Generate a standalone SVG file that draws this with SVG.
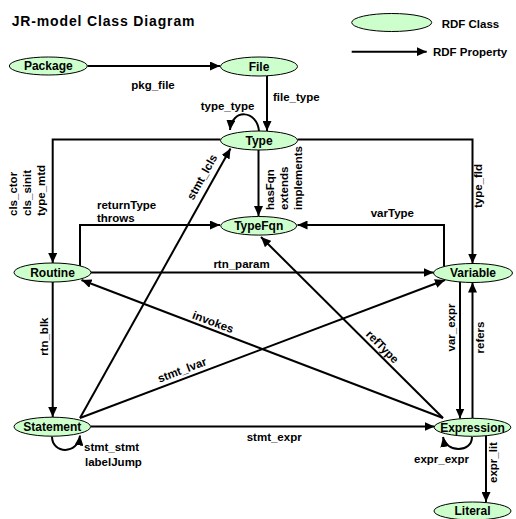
<svg xmlns="http://www.w3.org/2000/svg" width="516" height="519" viewBox="0 0 516 519">
  <defs>
    <marker id="arrow" markerUnits="userSpaceOnUse" markerWidth="11" markerHeight="9" refX="10" refY="4.5" orient="auto">
      <path d="M0,0 L10,4.5 L0,9 z" fill="#000"/>
    </marker>
  </defs>
  <style>
    .cls { fill: #ccffcc; stroke: #000; stroke-width: 1; }
    .edge { fill: none; stroke: #000; stroke-width: 2; marker-end: url(#arrow); }
    .node-label { font-family: "Liberation Sans", Arial, sans-serif; font-size: 12px; font-weight: bold; text-anchor: middle; fill: #000; }
    .lbl { font-family: "Liberation Sans", Arial, sans-serif; font-size: 11.5px; font-weight: bold; fill: #000; }
    .mid { text-anchor: middle; }
    .title { font-family: "Liberation Sans", Arial, sans-serif; font-size: 14px; font-weight: bold; letter-spacing: 0.85px; fill: #000; }
  </style>

  <rect width="516" height="519" fill="#fff"/>

  <text class="title" x="11.7" y="26">JR-model Class Diagram</text>

  <!-- legend -->
  <g id="legend">
    <ellipse class="cls" cx="391.7" cy="22.5" rx="40" ry="9"/>
    <text class="lbl" x="441.7" y="28" font-size="12">RDF Class</text>
    <path class="edge" d="M351.7,51.7 L426.7,51.7"/>
    <text class="lbl" x="433" y="56" font-size="12">RDF Property</text>
  </g>

  <!-- connectors -->
  <g id="connectors">
    <path class="edge" d="M87.5,66 L220,66"/>
    <text class="lbl mid" x="153" y="89">pkg_file</text>

    <path class="edge" d="M267,75.5 L267,131"/>
    <text class="lbl" x="273" y="101">file_type</text>

    <path class="edge" d="M259,131 C257,110 232,108 230,130"/>
    <text class="lbl mid" x="227.5" y="110">type_type</text>

    <path class="edge" d="M220.5,139.5 L52.7,139.5 L52.7,263"/>
    <text class="lbl" transform="translate(16.5,216) rotate(-90)">cls_ctor</text>
    <text class="lbl" transform="translate(30.5,216) rotate(-90)">cls_sinit</text>
    <text class="lbl" transform="translate(44.5,216) rotate(-90)">type_mtd</text>

    <path class="edge" d="M297.5,139.5 L472.5,139.5 L472.5,263.5"/>
    <text class="lbl mid" transform="translate(482,186) rotate(-90)">type_fld</text>

    <path class="edge" d="M258.5,150 L258.5,216"/>
    <text class="lbl" transform="translate(274,210) rotate(-90)">hasFqn</text>
    <text class="lbl" transform="translate(288,210) rotate(-90)">extends</text>
    <text class="lbl" transform="translate(302,210) rotate(-90)">implements</text>

    <path class="edge" d="M80,266 L80,225 L220,225"/>
    <text class="lbl" x="97" y="209">returnType</text>
    <text class="lbl" x="97" y="221.5">throws</text>

    <path class="edge" d="M444,266.5 L444,225 L297.5,225"/>
    <text class="lbl" x="370.7" y="217">varType</text>

    <path class="edge" d="M91,272.5 L433.5,272.5"/>
    <text class="lbl mid" x="241.5" y="268">rtn_param</text>

    <path class="edge" d="M52.7,282 L52.7,417"/>
    <text class="lbl mid" transform="translate(47.5,336.7) rotate(-90)">rtn_blk</text>

    <path class="edge" d="M80,418 L230.5,148.5"/>
    <text class="lbl mid" transform="translate(205.5,179) rotate(-60.8)">stmt_lcls</text>

    <path class="edge" d="M80,418 L445,280"/>
    <text class="lbl mid" transform="translate(183.4,373.7) rotate(-20.7)">stmt_lvar</text>

    <path class="edge" d="M443,418 L81.5,280"/>
    <text class="lbl mid" transform="translate(211.6,325.7) rotate(20.7)">invokes</text>

    <path class="edge" d="M443,418 L261,237"/>
    <text class="lbl mid" transform="translate(379.6,349.5) rotate(45.5)">refType</text>

    <path class="edge" d="M91,426.5 L434.5,426.5"/>
    <text class="lbl" x="246.7" y="441">stmt_expr</text>

    <path class="edge" d="M460,282 L460,418.5"/>
    <text class="lbl mid" transform="translate(455,327.5) rotate(-90)">var_expr</text>

    <path class="edge" d="M472.5,418 L472.5,282.5"/>
    <text class="lbl mid" transform="translate(484,337.5) rotate(-90)">refers</text>

    <path class="edge" d="M486,436 L486,502"/>
    <text class="lbl mid" transform="translate(497,462.5) rotate(-90)">expr_lit</text>

    <path class="edge" d="M472,437 C472,453 446,453 443,437"/>
    <text class="lbl" x="414" y="463">expr_expr</text>

    <path class="edge" d="M52,436.5 C52,454 78,455 80,435.5"/>
    <text class="lbl" x="84" y="451">stmt_stmt</text>
    <text class="lbl" x="85" y="466">labelJump</text>
  </g>

  <!-- classes -->
  <g id="Package">
    <ellipse class="cls" cx="48.3" cy="66" rx="39" ry="9"/>
    <text class="node-label" x="48.3" y="70">Package</text>
  </g>
  <g id="File">
    <ellipse class="cls" cx="259" cy="66.5" rx="38.5" ry="9.5"/>
    <text class="node-label" x="259" y="70.7">File</text>
  </g>
  <g id="Type">
    <ellipse class="cls" cx="259" cy="140.5" rx="38.5" ry="9.5"/>
    <text class="node-label" x="259" y="144.7">Type</text>
  </g>
  <g id="TypeFqn">
    <ellipse class="cls" cx="258.7" cy="225.8" rx="38" ry="9.3"/>
    <text class="node-label" x="258.7" y="230">TypeFqn</text>
  </g>
  <g id="Routine">
    <ellipse class="cls" cx="52.5" cy="272.5" rx="38.5" ry="9.5"/>
    <text class="node-label" x="52.5" y="276.7">Routine</text>
  </g>
  <g id="Variable">
    <ellipse class="cls" cx="473" cy="273" rx="39.5" ry="9.5"/>
    <text class="node-label" x="473" y="277.2">Variable</text>
  </g>
  <g id="Statement">
    <ellipse class="cls" cx="52.3" cy="426.7" rx="38.3" ry="9.5"/>
    <text class="node-label" x="52.3" y="430.9">Statement</text>
  </g>
  <g id="Expression">
    <ellipse class="cls" cx="472.5" cy="427.3" rx="38.3" ry="9"/>
    <text class="node-label" x="472.5" y="431.5">Expression</text>
  </g>
  <g id="Literal">
    <ellipse class="cls" cx="472.5" cy="511" rx="38.5" ry="9"/>
    <text class="node-label" x="472.5" y="515.2">Literal</text>
  </g>
</svg>
